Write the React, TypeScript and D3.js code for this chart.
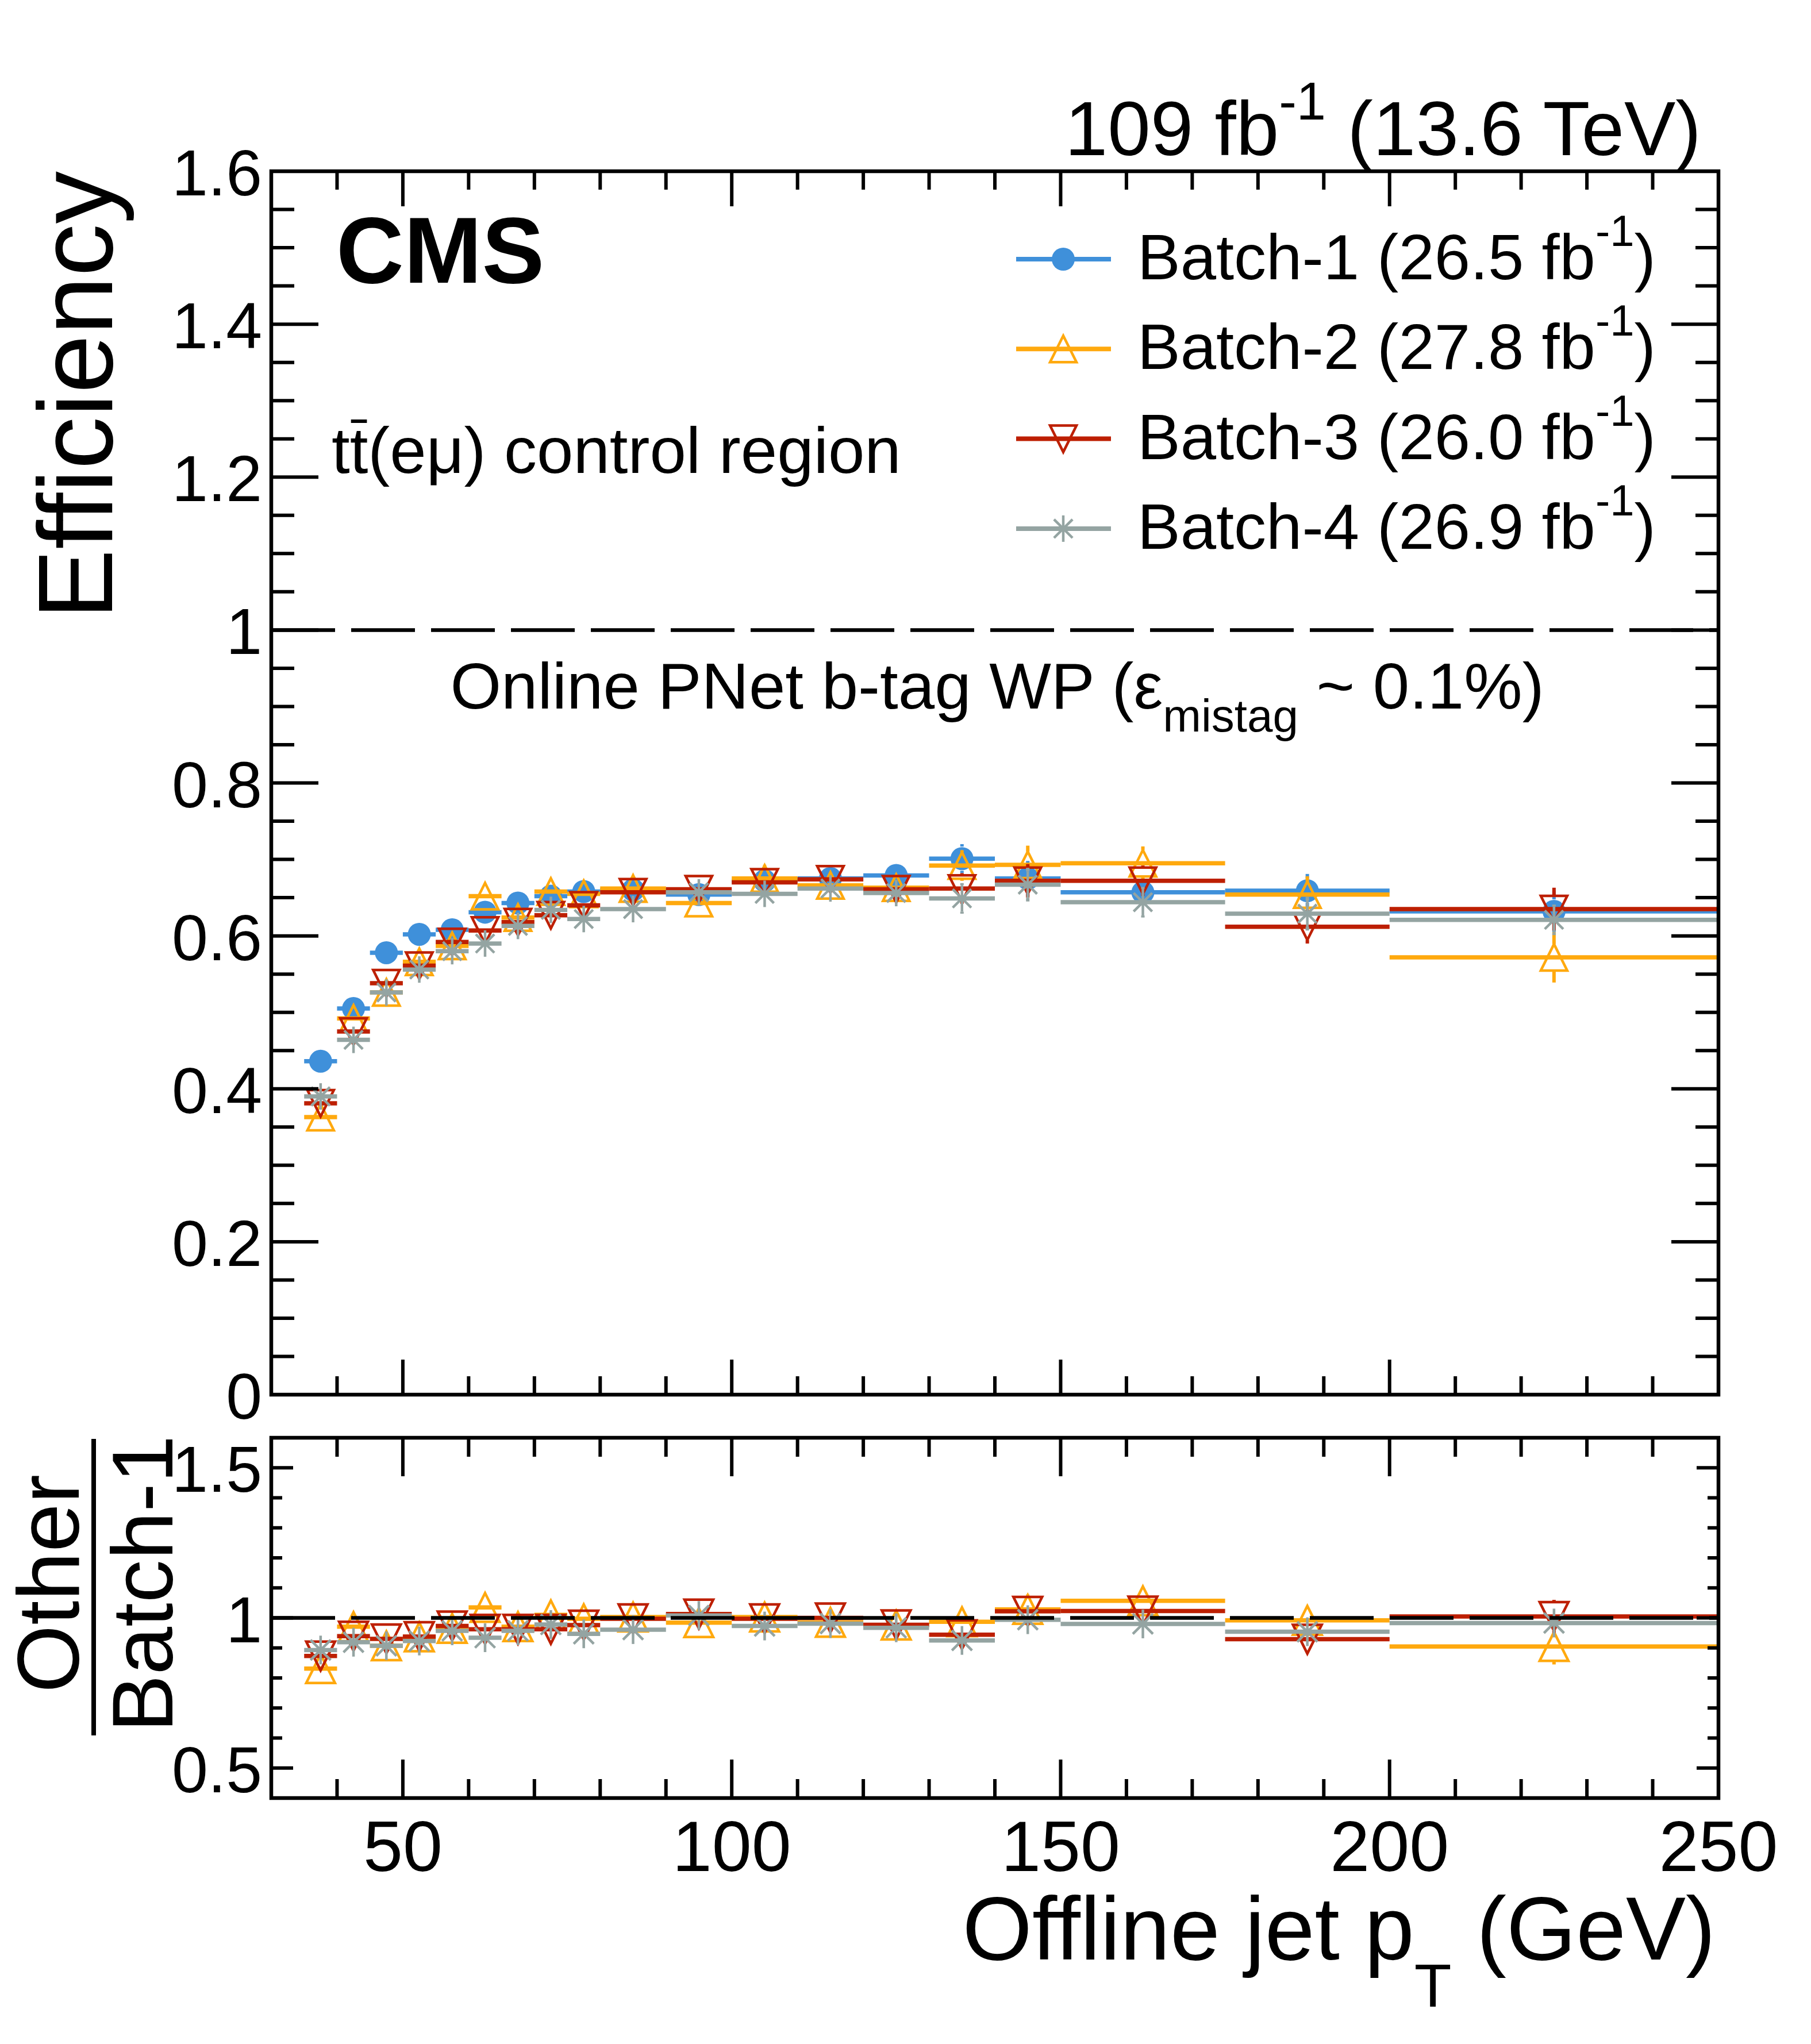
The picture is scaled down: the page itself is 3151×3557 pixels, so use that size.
import * as d3 from 'd3'

// pT bin edges (GeV)
const binEdges = [35, 40, 45, 50, 55, 60, 65, 70, 75, 80, 90, 100, 110, 120, 130, 140, 150, 175, 200, 250]

// efficiency per batch
const effBatch1 = [0.436, 0.505, 0.578, 0.602, 0.608, 0.631, 0.643, 0.652, 0.658, 0.660, 0.654, 0.672, 0.675, 0.679, 0.701, 0.675, 0.657, 0.659, 0.632]
const effBatch2 = [0.363, 0.492, 0.526, 0.566, 0.587, 0.652, 0.624, 0.658, 0.655, 0.662, 0.643, 0.675, 0.666, 0.663, 0.692, 0.693, 0.695, 0.654, 0.572]
const effBatch3 = [0.381, 0.475, 0.538, 0.561, 0.592, 0.607, 0.618, 0.627, 0.640, 0.657, 0.661, 0.670, 0.674, 0.661, 0.662, 0.672, 0.672, 0.612, 0.635]
const effBatch4 = [0.390, 0.464, 0.526, 0.556, 0.580, 0.590, 0.613, 0.634, 0.622, 0.635, 0.657, 0.655, 0.662, 0.656, 0.649, 0.667, 0.644, 0.629, 0.621]

const errBatch1 = [0.005, 0.005, 0.005, 0.006, 0.006, 0.007, 0.007, 0.008, 0.008, 0.007, 0.008, 0.010, 0.011, 0.013, 0.019, 0.023, 0.016, 0.022, 0.027]
const errBatch2 = [0.005, 0.005, 0.006, 0.006, 0.007, 0.007, 0.008, 0.008, 0.009, 0.008, 0.009, 0.018, 0.011, 0.014, 0.020, 0.025, 0.022, 0.024, 0.033]
const errBatch3 = [0.005, 0.005, 0.006, 0.006, 0.007, 0.007, 0.008, 0.008, 0.009, 0.008, 0.009, 0.011, 0.012, 0.014, 0.020, 0.022, 0.020, 0.022, 0.028]
const errBatch4 = [0.005, 0.005, 0.006, 0.006, 0.007, 0.007, 0.008, 0.008, 0.009, 0.008, 0.009, 0.011, 0.012, 0.014, 0.020, 0.022, 0.020, 0.022, 0.020]

// ratio to Batch-1
const ratioBatch2 = [0.831, 0.971, 0.907, 0.937, 0.965, 1.035, 0.971, 1.010, 0.997, 1.003, 0.984, 1.003, 0.985, 0.976, 0.987, 1.028, 1.057, 0.992, 0.905]
const ratioBatch3 = [0.873, 0.939, 0.930, 0.938, 0.973, 0.962, 0.962, 0.962, 0.976, 0.997, 1.013, 0.997, 1.000, 0.977, 0.944, 1.022, 1.023, 0.929, 1.005]
const ratioBatch4 = [0.893, 0.919, 0.907, 0.923, 0.957, 0.934, 0.957, 0.978, 0.947, 0.961, 1.008, 0.973, 0.981, 0.967, 0.925, 0.994, 0.980, 0.954, 0.983]

const rErrBatch2 = [0.022, 0.020, 0.019, 0.020, 0.021, 0.022, 0.022, 0.023, 0.023, 0.020, 0.022, 0.024, 0.026, 0.030, 0.036, 0.050, 0.045, 0.045, 0.060]
const rErrBatch3 = [0.022, 0.020, 0.019, 0.020, 0.021, 0.022, 0.022, 0.023, 0.023, 0.020, 0.022, 0.024, 0.026, 0.030, 0.036, 0.040, 0.036, 0.042, 0.055]
const rErrBatch4 = [0.022, 0.020, 0.019, 0.020, 0.021, 0.022, 0.022, 0.023, 0.023, 0.020, 0.022, 0.024, 0.026, 0.030, 0.036, 0.040, 0.036, 0.042, 0.045]

const batchNames = ['Batch-1', 'Batch-2', 'Batch-3', 'Batch-4']
const batchLumis = ['26.5', '27.8', '26.0', '26.9']
const batchColors = ['#3f90da', '#ffa90e', '#bd1f01', '#94a4a2']
const batchMarkers = ['circle', 'triUp', 'triDown', 'star']

const W = 3151
const H = 3557
const FONT = '"Liberation Sans", Arial, Helvetica, sans-serif'
const L = 472
const R = 2990

const x = d3.scaleLinear().domain([30, 250]).range([L, R])
const yMain = d3.scaleLinear().domain([0, 1.6]).range([2427, 298])
const yRatio = d3.scaleLinear().domain([0.4, 1.6]).range([3129, 2502])

function Marker({ kind, cx, cy, s, color }: { kind: string; cx: number; cy: number; s: number; color: string }) {
  if (kind === 'circle') return <circle cx={cx} cy={cy} r={s - 1} fill={color} />
  if (kind === 'triUp')
    return <polygon points={`${cx - s},${cy + s} ${cx + s},${cy + s} ${cx},${cy - s}`} fill="none" stroke={color} strokeWidth={4.5} />
  if (kind === 'triDown')
    return <polygon points={`${cx - s},${cy - s} ${cx + s},${cy - s} ${cx},${cy + s}`} fill="none" stroke={color} strokeWidth={4.5} />
  const d = s * 0.7
  return (
    <g stroke={color} strokeWidth={4.5}>
      <line x1={cx} x2={cx} y1={cy - s} y2={cy + s} />
      <line x1={cx - s} x2={cx + s} y1={cy} y2={cy} />
      <line x1={cx - d} x2={cx + d} y1={cy - d} y2={cy + d} />
      <line x1={cx - d} x2={cx + d} y1={cy + d} y2={cy - d} />
    </g>
  )
}

function Series({ values, errors, yScale, color, kind, s }: any) {
  const gap = s
  return (
    <g>
      <g stroke={color} strokeWidth={7.5}>
        {values.map((v: number, i: number) => {
          const lo = binEdges[i]
          const hi = binEdges[i + 1]
          const cx = x((lo + hi) / 2)
          const cy = yScale(v)
          const up = yScale(v + errors[i])
          const dn = yScale(v - errors[i])
          return (
            <g key={i}>
              <line x1={x(lo)} x2={x(hi)} y1={cy} y2={cy} />
              {cy - up > gap && <line x1={cx} x2={cx} y1={cy - gap} y2={up} strokeWidth={6} />}
              {dn - cy > gap && <line x1={cx} x2={cx} y1={cy + gap} y2={dn} strokeWidth={6} />}
            </g>
          )
        })}
      </g>
      {values.map((v: number, i: number) => (
        <Marker key={i} kind={kind} cx={x((binEdges[i] + binEdges[i + 1]) / 2)} cy={yScale(v)} s={s} color={color} />
      ))}
    </g>
  )
}

function Frame({ yScale, yTicks, yMajor, xMaj, xMin, yMaj, yMin }: any) {
  const top = yScale.range()[1]
  const bot = yScale.range()[0]
  const xTicks = d3.range(40, 250, 10)
  return (
    <g stroke="#000" strokeWidth={6}>
      {xTicks.map((t) => {
        const len = t % 50 === 0 ? xMaj : xMin
        return (
          <g key={t}>
            <line x1={x(t)} x2={x(t)} y1={bot} y2={bot - len} />
            <line x1={x(t)} x2={x(t)} y1={top} y2={top + len} />
          </g>
        )
      })}
      {yTicks.map((t: number, i: number) => {
        const len = yMajor(t) ? yMaj : yMin
        return (
          <g key={i}>
            <line x1={L} x2={L + len} y1={yScale(t)} y2={yScale(t)} />
            <line x1={R} x2={R - len} y1={yScale(t)} y2={yScale(t)} />
          </g>
        )
      })}
      <rect x={L} y={top} width={R - L} height={bot - top} fill="none" strokeWidth={6.5} />
    </g>
  )
}

export default function App() {
  const mainValues = [effBatch1, effBatch2, effBatch3, effBatch4]
  const mainErrors = [errBatch1, errBatch2, errBatch3, errBatch4]
  const ratioValues = [null, ratioBatch2, ratioBatch3, ratioBatch4]
  const ratioErrors = [null, rErrBatch2, rErrBatch3, rErrBatch4]

  const mainYTicks = d3.range(1, 32).map((i) => i * 0.05)
  const ratioYTicks = d3.range(5, 16).map((i) => i / 10)
  const mainLabels = d3.range(0, 9).map((i) => i * 0.2)
  const ratioLabels = [0.5, 1, 1.5]
  const xLabels = [50, 100, 150, 200, 250]
  const legendRows = d3.range(4).map((i) => 486 + i * 156.3)
  const fmt = (v: number) => String(+v.toFixed(1))

  return (
    <svg width={W} height={H} style={{ position: 'absolute', left: 0, top: 0, background: '#fff' }} fontFamily={FONT}>
      <rect width={W} height={H} fill="#fff" />

      {/* main panel */}
      {mainValues.map((vals, k) => (
        <Series key={k} values={vals} errors={mainErrors[k]} yScale={yMain} color={batchColors[k]} kind={batchMarkers[k]} s={batchMarkers[k] === 'circle' ? 21 : 23} />
      ))}
      <line x1={L} x2={R} y1={yMain(1)} y2={yMain(1)} stroke="#000" strokeWidth={6.5} strokeDasharray="111 28" />
      <Frame yScale={yMain} yTicks={mainYTicks} yMajor={(t: number) => Math.round(t * 100) % 20 === 0} xMaj={61} xMin={32} yMaj={82} yMin={40} />
      {mainLabels.map((v) => (
        <text key={v} x={456} y={yMain(v) + 42} textAnchor="end" fontSize={113}>{fmt(v)}</text>
      ))}

      {/* ratio panel */}
      {ratioValues.map((vals, k) =>
        vals ? (
          <Series key={k} values={vals} errors={ratioErrors[k]} yScale={yRatio} color={batchColors[k]} kind={batchMarkers[k]} s={25} />
        ) : null
      )}
      <line x1={L} x2={R} y1={yRatio(1)} y2={yRatio(1)} stroke="#000" strokeWidth={6.5} strokeDasharray="111 28" />
      <Frame yScale={yRatio} yTicks={ratioYTicks} yMajor={(t: number) => Math.round(t * 10) % 5 === 0} xMaj={67} xMin={33} yMaj={38} yMin={19} />
      {ratioLabels.map((v) => (
        <text key={v} x={456} y={yRatio(v) + 42} textAnchor="end" fontSize={113}>{fmt(v)}</text>
      ))}
      {xLabels.map((v) => (
        <text key={v} x={x(v)} y={3256} textAnchor="middle" fontSize={124}>{v}</text>
      ))}

      {/* axis titles */}
      <text transform="translate(195,298) rotate(-90)" textAnchor="end" fontSize={183}>Efficiency</text>
      <text transform="translate(137,2756) rotate(-90)" textAnchor="middle" fontSize={152}>Other</text>
      <line x1={163} x2={163} y1={2504} y2={3020} stroke="#000" strokeWidth={8} />
      <text transform="translate(300,2756) rotate(-90)" textAnchor="middle" fontSize={150}>Batch-1</text>
      <text x={2985} y={3410} textAnchor="end" fontSize={156}>
        Offline jet p
        <tspan fontSize={106} dy={82}>T</tspan>
        <tspan dy={-82}>{' (GeV)'}</tspan>
      </text>

      {/* header and labels */}
      <text x={2960} y={270} textAnchor="end" fontSize={134}>
        109 fb
        <tspan fontSize={92} dy={-62}>-1</tspan>
        <tspan dy={62}>{' (13.6 TeV)'}</tspan>
      </text>
      <text x={585} y={492} fontSize={163} fontWeight="bold">CMS</text>
      <text x={577} y={823} fontSize={114}>
        tt(eμ) control region
      </text>
      <line x1={577 + 0.278 * 114 + 2} x2={577 + 0.556 * 114 - 2} y1={733} y2={733} stroke="#000" strokeWidth={6} />
      <text x={1735} y={1233} textAnchor="middle" fontSize={114}>
        Online PNet b-tag WP (ε
        <tspan fontSize={80} dy={40}>mistag</tspan>
        <tspan dy={-40}>{' ~ 0.1%)'}</tspan>
      </text>

      {/* legend */}
      {legendRows.map((by, k) => (
        <g key={k}>
          <line x1={1768} x2={1933} y1={by - 35} y2={by - 35} stroke={batchColors[k]} strokeWidth={8} />
          <Marker kind={batchMarkers[k]} cx={1850} cy={by - 35} s={batchMarkers[k] === 'circle' ? 21 : 23} color={batchColors[k]} />
          <text x={1979} y={by} fontSize={112}>
            {`${batchNames[k]} (${batchLumis[k]} fb`}
            <tspan fontSize={76} dy={-58}>-1</tspan>
            <tspan dy={58}>)</tspan>
          </text>
        </g>
      ))}
    </svg>
  )
}
